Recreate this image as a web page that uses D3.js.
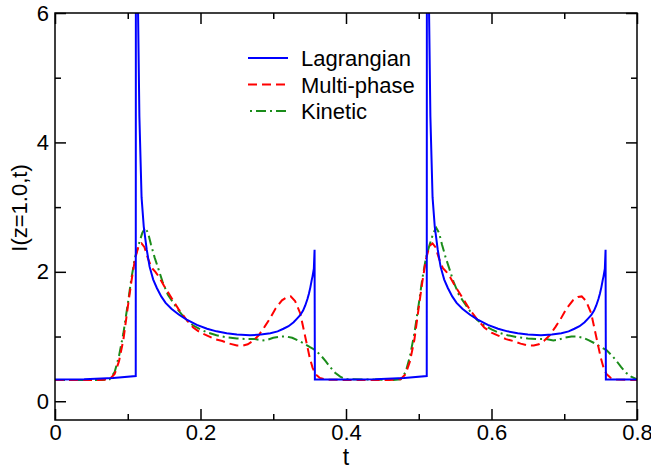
<!DOCTYPE html>
<html>
<head>
<meta charset="utf-8">
<script src="https://cdn.jsdelivr.net/npm/d3@7"></script>
<style>
  body { margin: 0; background: #fff; }
  text { font-family: "Liberation Sans", Arial, sans-serif; }
</style>
</head>
<body>
<div id="chart"></div>
<script>
// Lagrangian (blue, solid)
const lagT = [0, 0.04, 0.08, 0.111, 0.1113, 0.1135, 0.116, 0.119, 0.122, 0.126, 0.130, 0.135, 0.140, 0.146, 0.152, 0.160, 0.170, 0.181, 0.195, 0.209, 0.222, 0.236, 0.250, 0.268, 0.283, 0.296, 0.306, 0.314, 0.321, 0.328, 0.333, 0.337, 0.341, 0.344, 0.347, 0.349, 0.351, 0.353, 0.354, 0.3558, 0.3568, 0.3572,
  0.40, 0.44, 0.48, 0.511, 0.5113, 0.5135, 0.516, 0.519, 0.522, 0.526, 0.530, 0.535, 0.540, 0.546, 0.552, 0.560, 0.570, 0.581, 0.595, 0.609, 0.622, 0.636, 0.650, 0.668, 0.683, 0.696, 0.706, 0.714, 0.721, 0.728, 0.733, 0.737, 0.741, 0.744, 0.747, 0.749, 0.751, 0.753, 0.754, 0.7558, 0.7568, 0.7572, 0.8];
const lagI = [0.335, 0.34, 0.36, 0.39, 12, 6.6, 4.4, 3.15, 2.7, 2.35, 2.08, 1.88, 1.75, 1.62, 1.52, 1.43, 1.34, 1.26, 1.18, 1.12, 1.08, 1.05, 1.03, 1.02, 1.03, 1.05, 1.08, 1.12, 1.16, 1.22, 1.28, 1.33, 1.40, 1.48, 1.58, 1.66, 1.76, 1.88, 1.93, 2.05, 2.34, 0.335,
  0.335, 0.34, 0.36, 0.39, 12, 6.6, 4.4, 3.15, 2.7, 2.35, 2.08, 1.88, 1.75, 1.62, 1.52, 1.43, 1.34, 1.26, 1.18, 1.12, 1.08, 1.05, 1.03, 1.02, 1.03, 1.05, 1.08, 1.12, 1.16, 1.22, 1.28, 1.33, 1.40, 1.48, 1.58, 1.66, 1.76, 1.88, 1.93, 2.05, 2.34, 0.335, 0.335];

// Multi-phase (red, dashed)
const mpT = [0, 0.06, 0.075, 0.082, 0.088, 0.094, 0.100, 0.105, 0.110, 0.115, 0.119, 0.123, 0.128, 0.133, 0.138, 0.143, 0.150, 0.160, 0.170, 0.180, 0.190, 0.200, 0.210, 0.220, 0.230, 0.240, 0.250, 0.258, 0.265, 0.272, 0.280, 0.288, 0.295, 0.303, 0.312, 0.319, 0.324, 0.330, 0.337, 0.342, 0.346, 0.350, 0.354, 0.358, 0.364, 0.372, 0.390,
  0.460, 0.475, 0.482, 0.488, 0.494, 0.500, 0.505, 0.510, 0.515, 0.519, 0.523, 0.528, 0.533, 0.538, 0.543, 0.550, 0.560, 0.570, 0.580, 0.590, 0.600, 0.610, 0.620, 0.630, 0.640, 0.650, 0.658, 0.665, 0.672, 0.680, 0.688, 0.695, 0.703, 0.712, 0.719, 0.724, 0.730, 0.737, 0.742, 0.746, 0.750, 0.754, 0.758, 0.764, 0.772, 0.790, 0.8];
const mpI = [0.33, 0.33, 0.34, 0.42, 0.62, 0.95, 1.45, 1.85, 2.2, 2.4, 2.44, 2.38, 2.2, 2.06, 2.0, 1.92, 1.78, 1.6, 1.42, 1.27, 1.14, 1.06, 1.01, 0.96, 0.93, 0.89, 0.86, 0.86, 0.88, 0.93, 1.02, 1.15, 1.27, 1.43, 1.56, 1.61, 1.62, 1.55, 1.36, 1.1, 0.89, 0.68, 0.52, 0.42, 0.36, 0.335, 0.33,
  0.33, 0.34, 0.42, 0.62, 0.95, 1.45, 1.85, 2.2, 2.4, 2.44, 2.38, 2.2, 2.06, 2.0, 1.92, 1.78, 1.6, 1.42, 1.27, 1.14, 1.06, 1.01, 0.96, 0.93, 0.89, 0.86, 0.86, 0.88, 0.93, 1.02, 1.15, 1.27, 1.43, 1.56, 1.61, 1.62, 1.55, 1.36, 1.1, 0.89, 0.68, 0.52, 0.42, 0.36, 0.335, 0.33, 0.33];

// Kinetic (green, dash-dot)
const kinT = [0, 0.065, 0.075, 0.082, 0.088, 0.094, 0.100, 0.105, 0.110, 0.115, 0.120, 0.124, 0.128, 0.132, 0.137, 0.142, 0.148, 0.155, 0.162, 0.170, 0.180, 0.190, 0.200, 0.210, 0.222, 0.235, 0.250, 0.265, 0.275, 0.285, 0.292, 0.300, 0.310, 0.318, 0.326, 0.334, 0.341, 0.350, 0.358, 0.366, 0.372, 0.378, 0.385, 0.392, 0.400,
  0.465, 0.475, 0.482, 0.488, 0.494, 0.500, 0.505, 0.510, 0.515, 0.520, 0.524, 0.528, 0.532, 0.537, 0.542, 0.548, 0.555, 0.562, 0.570, 0.580, 0.590, 0.600, 0.610, 0.622, 0.635, 0.650, 0.665, 0.675, 0.685, 0.692, 0.700, 0.710, 0.718, 0.726, 0.734, 0.741, 0.750, 0.758, 0.766, 0.772, 0.778, 0.785, 0.792, 0.800];
const kinI = [0.33, 0.33, 0.34, 0.45, 0.7, 1.05, 1.5, 1.9, 2.22, 2.42, 2.6, 2.68, 2.6, 2.42, 2.22, 2.05, 1.84, 1.65, 1.53, 1.4, 1.26, 1.17, 1.11, 1.06, 1.02, 0.99, 0.97, 0.96, 0.96, 0.94, 0.95, 0.98, 1.0, 1.0, 0.98, 0.94, 0.9, 0.84, 0.79, 0.7, 0.62, 0.53, 0.44, 0.38, 0.34,
  0.33, 0.34, 0.45, 0.7, 1.05, 1.5, 1.9, 2.22, 2.42, 2.6, 2.68, 2.6, 2.42, 2.22, 2.05, 1.84, 1.65, 1.53, 1.4, 1.26, 1.17, 1.11, 1.06, 1.02, 0.99, 0.97, 0.96, 0.96, 0.94, 0.95, 0.98, 1.0, 1.0, 0.98, 0.94, 0.9, 0.84, 0.79, 0.7, 0.62, 0.53, 0.44, 0.38, 0.34];

const xTicks = [0, 0.2, 0.4, 0.6, 0.8];
const xTickLabels = ["0", "0.2", "0.4", "0.6", "0.8"];
const xMinor = [0.1, 0.3, 0.5, 0.7];
const yTicks = [0, 2, 4, 6];
const yMinor = [1, 3, 5];

const series = [
  { name: "Lagrangian", t: lagT, v: lagI, color: "#0000ff", dash: null },
  { name: "Multi-phase", t: mpT, v: mpI, color: "#ff0000", dash: "9,5" },
  { name: "Kinetic", t: kinT, v: kinI, color: "#1a8c1a", dash: "10,4,2,4" }
];

const width = 651, height = 468;
const margin = { top: 13, right: 14, bottom: 48, left: 55 };
const font = "Liberation Sans, Arial, sans-serif";

const x = d3.scaleLinear().domain([0, 0.8]).range([margin.left, width - margin.right]);
const y = d3.scaleLinear().domain([-0.29, 6]).range([height - margin.bottom, margin.top]);

const svg = d3.select("#chart").append("svg")
  .attr("width", width)
  .attr("height", height)
  .attr("viewBox", [0, 0, width, height]);

svg.append("clipPath").attr("id", "clip")
  .append("rect")
  .attr("x", margin.left).attr("y", margin.top)
  .attr("width", width - margin.left - margin.right)
  .attr("height", height - margin.top - margin.bottom);

const line = d3.line().x(d => x(d[0])).y(d => y(d[1]));

// curves
const plot = svg.append("g").attr("clip-path", "url(#clip)");
series.slice().reverse().forEach(s => {
  plot.append("path")
    .datum(s.t.map((t, i) => [t, s.v[i]]))
    .attr("fill", "none")
    .attr("stroke", s.color)
    .attr("stroke-width", 2)
    .attr("stroke-dasharray", s.dash)
    .attr("d", line);
});

// axes, ticks inward on all four sides
const yBot = height - margin.bottom, yTop = margin.top;
const xLeft = margin.left, xRight = width - margin.right;

svg.append("g")
  .attr("transform", `translate(0,${yBot})`)
  .call(d3.axisBottom(x).tickValues(xTicks).tickSize(-11).tickFormat((d, i) => xTickLabels[i]).tickPadding(4))
  .call(g => g.select(".domain").remove())
  .call(g => g.selectAll("text").attr("font-size", 22).attr("font-family", font));
svg.append("g")
  .attr("transform", `translate(0,${yBot})`)
  .call(d3.axisBottom(x).tickValues(xMinor).tickSize(-6).tickFormat(""))
  .call(g => g.select(".domain").remove());
svg.append("g")
  .attr("transform", `translate(0,${yTop})`)
  .call(d3.axisTop(x).tickValues(xTicks).tickSize(-11).tickFormat(""))
  .call(g => g.select(".domain").remove());
svg.append("g")
  .attr("transform", `translate(0,${yTop})`)
  .call(d3.axisTop(x).tickValues(xMinor).tickSize(-6).tickFormat(""))
  .call(g => g.select(".domain").remove());

svg.append("g")
  .attr("transform", `translate(${xLeft},0)`)
  .call(d3.axisLeft(y).tickValues(yTicks).tickSize(-11).tickFormat(d3.format("d")).tickPadding(6))
  .call(g => g.select(".domain").remove())
  .call(g => g.selectAll("text").attr("font-size", 22).attr("font-family", font));
svg.append("g")
  .attr("transform", `translate(${xLeft},0)`)
  .call(d3.axisLeft(y).tickValues(yMinor).tickSize(-6).tickFormat(""))
  .call(g => g.select(".domain").remove());
svg.append("g")
  .attr("transform", `translate(${xRight},0)`)
  .call(d3.axisRight(y).tickValues(yTicks).tickSize(-11).tickFormat(""))
  .call(g => g.select(".domain").remove());
svg.append("g")
  .attr("transform", `translate(${xRight},0)`)
  .call(d3.axisRight(y).tickValues(yMinor).tickSize(-6).tickFormat(""))
  .call(g => g.select(".domain").remove());

svg.selectAll(".tick line").attr("stroke", "#000").attr("stroke-width", 1.5);

svg.append("rect")
  .attr("x", xLeft).attr("y", yTop)
  .attr("width", xRight - xLeft).attr("height", yBot - yTop)
  .attr("fill", "none").attr("stroke", "#000").attr("stroke-width", 1.5);

// axis titles
svg.append("text")
  .attr("x", (xLeft + xRight) / 2).attr("y", 465)
  .attr("text-anchor", "middle")
  .attr("font-size", 23)
  .text("t");
svg.append("text")
  .attr("transform", `translate(27,208) rotate(-90)`)
  .attr("text-anchor", "middle")
  .attr("font-size", 22)
  .text("I(z=1.0,t)");

// legend
const legend = svg.append("g");
series.forEach((s, i) => {
  const ly = 58 + i * 26.5;
  legend.append("line")
    .attr("x1", 248).attr("x2", 288)
    .attr("y1", ly).attr("y2", ly)
    .attr("stroke", s.color).attr("stroke-width", 2)
    .attr("stroke-dasharray", s.dash)
    .attr("stroke-dashoffset", s.name === "Kinetic" ? 12 : 0);
  legend.append("text")
    .attr("x", 301).attr("y", ly + 8)
    .attr("font-size", 22)
    .text(s.name);
});
</script>
</body>
</html>
